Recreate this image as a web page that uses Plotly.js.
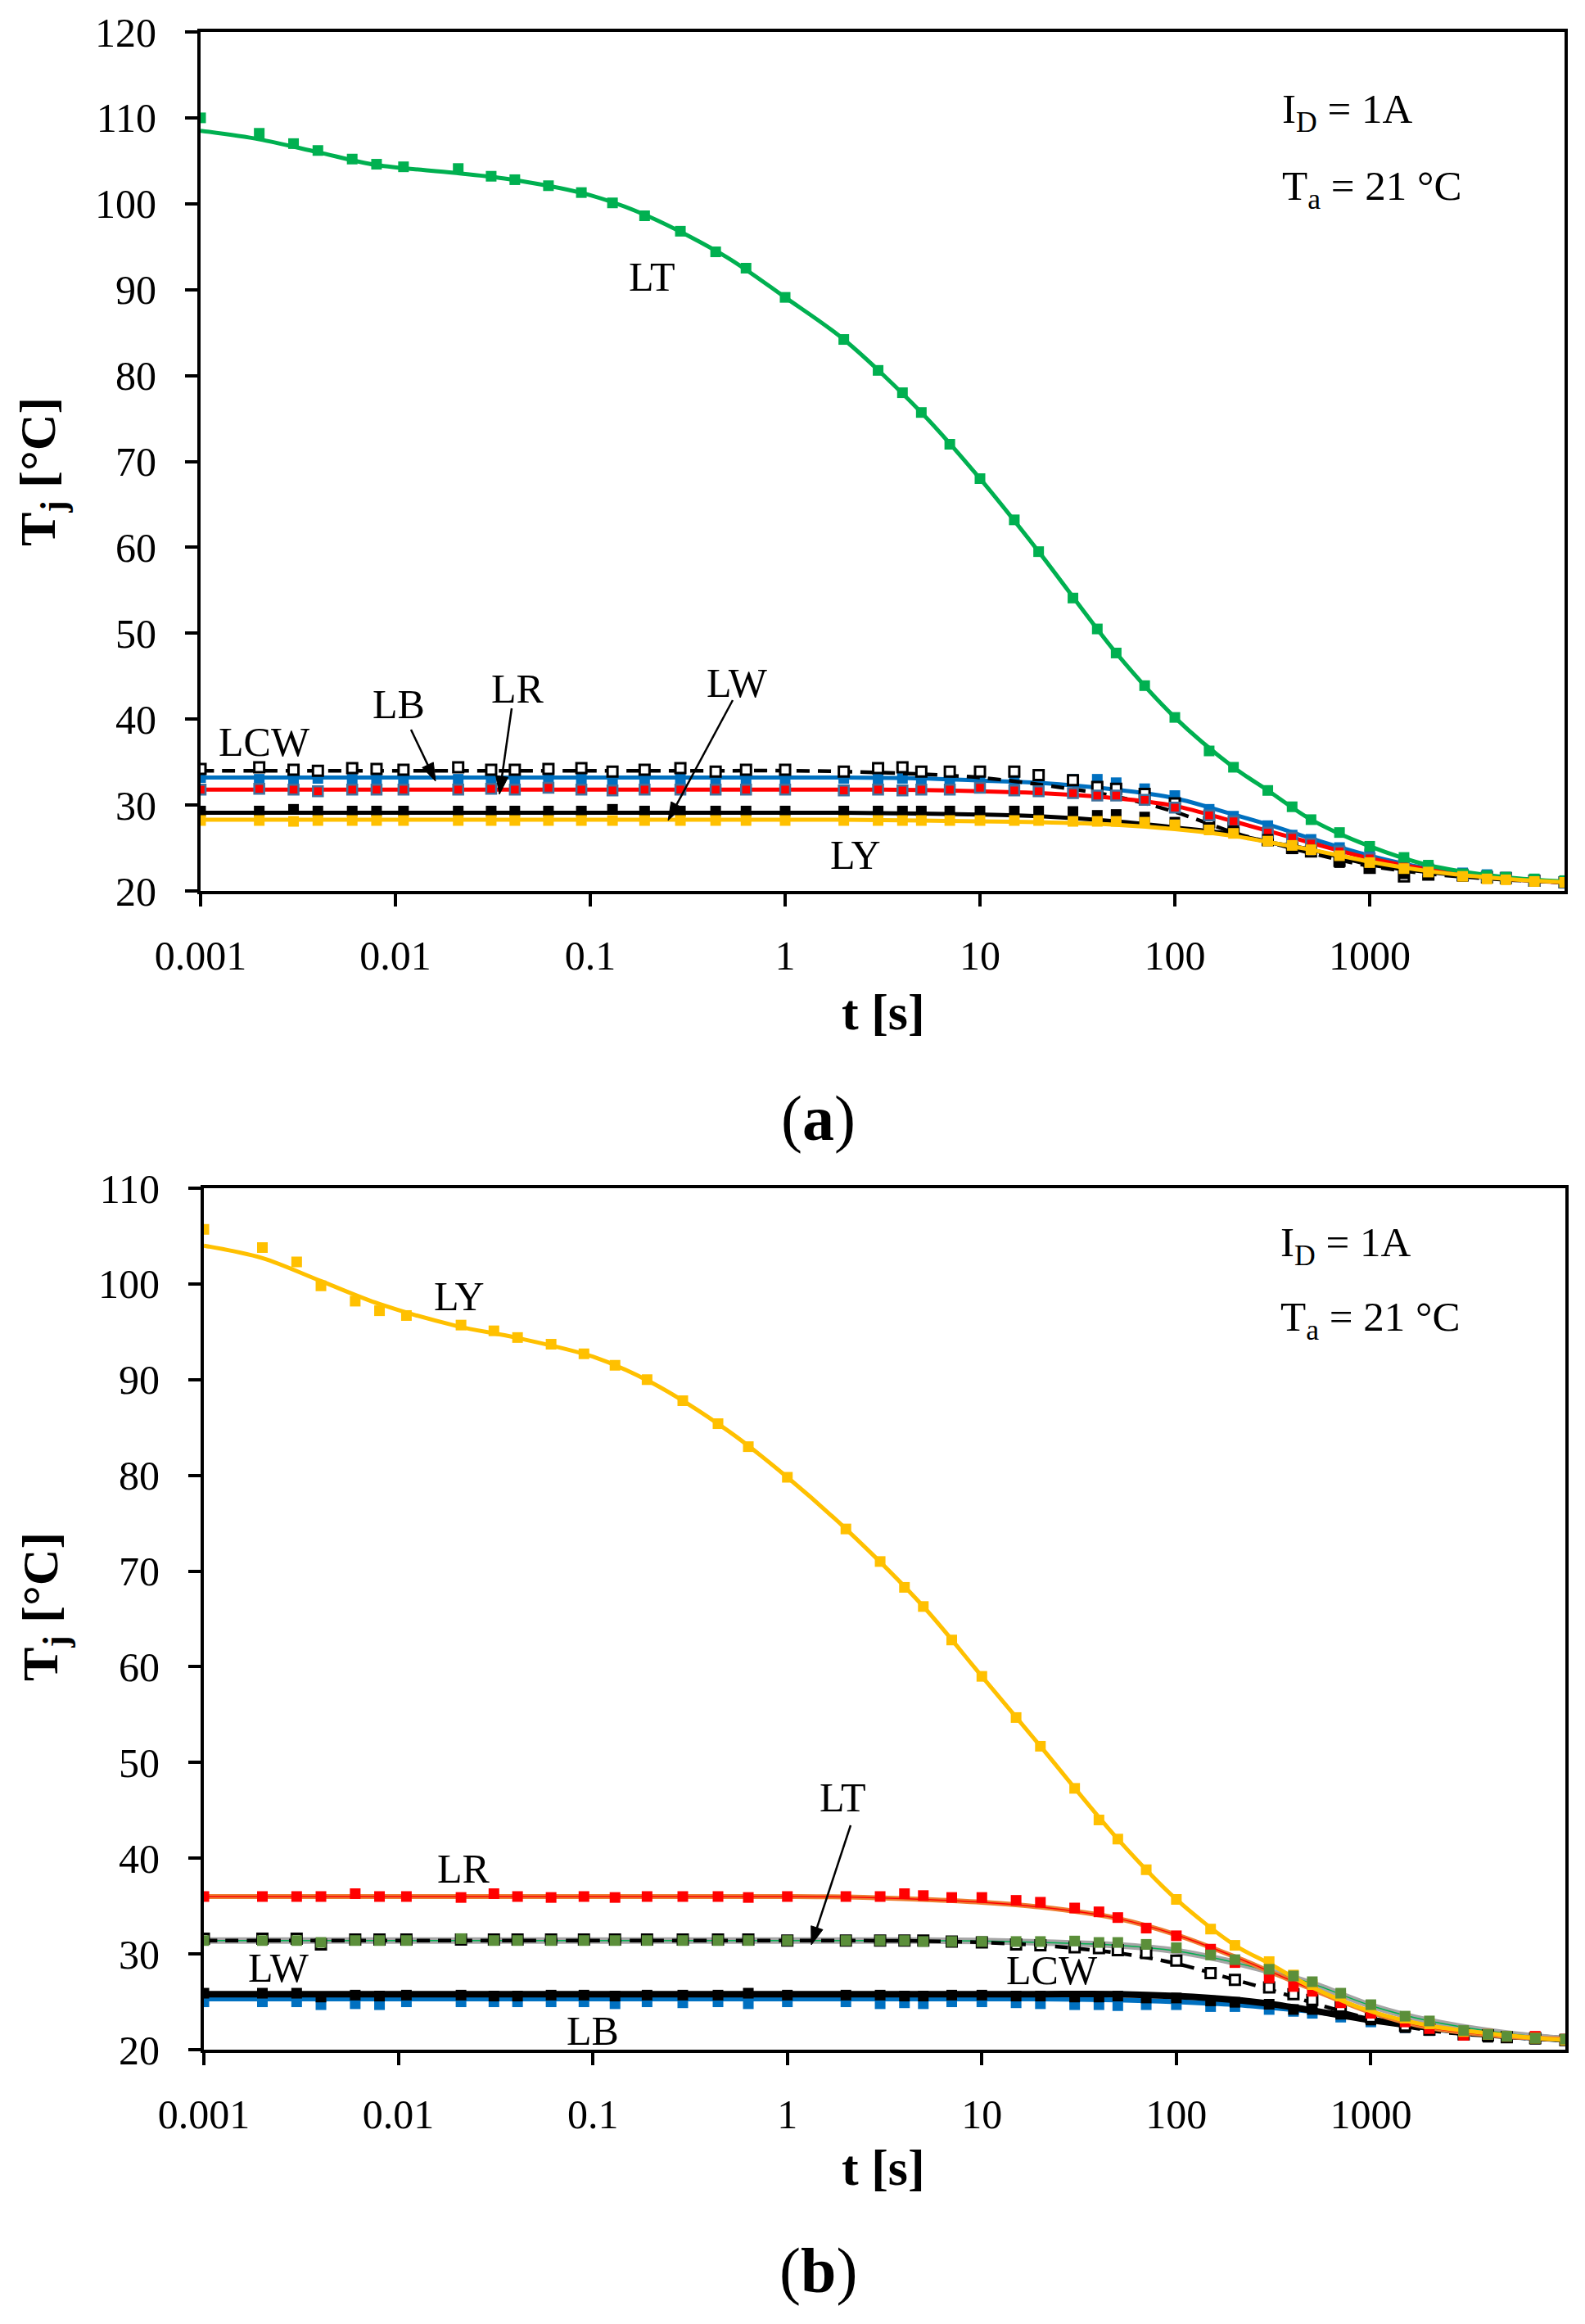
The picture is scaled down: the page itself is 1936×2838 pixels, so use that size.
<!DOCTYPE html>
<html>
<head>
<meta charset="utf-8">
<script src="https://cdn.plot.ly/plotly-3.0.1.min.js"></script>
<style>
html,body{margin:0;padding:0;background:#fff;}
#chart{width:1936px;height:2838px;}
</style>
</head>
<body>
<div id="chart"></div>
<script>
// ---------- data ----------
const T_GRID = [0.001,0.002,0.003,0.004,0.006,0.008,0.011,0.021,0.031,0.041,0.061,0.09,0.13,0.19,0.29,0.44,0.63,1,2,3,4,5,7,10,15,20,30,40,50,70,100,150,200,300,400,500,700,1000,1500,2000,3000,4000,5000,7000,10000];
const FIT_T = [0.001,0.002,0.004,0.008,0.02,0.04,0.1,0.2,0.5,1,2,5,10,20,50,100,200,300,500,1000,2000,5000,10000];
const X_TICKS = [0.001,0.01,0.1,1,10,100,1000];
const X_TICK_TEXT = ['0.001','0.01','0.1','1','10','100','1000'];

// (a) measured points
const A_LT  = [110.0,108.2,107.0,106.2,105.2,104.6,104.3,104.1,103.2,102.8,102.1,101.3,100.1,98.6,96.8,94.4,92.5,89.1,84.2,80.6,78.0,75.7,72.0,68.0,63.2,59.5,54.1,50.5,47.7,43.9,40.2,36.3,34.4,31.7,29.8,28.3,26.8,25.2,23.9,23.0,22.0,21.8,21.6,21.4,21.2];
const A_LCW = [34.2,34.4,34.1,34.0,34.3,34.2,34.1,34.4,34.1,34.1,34.2,34.3,33.9,34.1,34.3,33.9,34.1,34.1,33.9,34.3,34.4,33.9,33.9,33.9,33.9,33.5,32.9,32.1,31.9,31.3,30.2,28.0,27.4,25.9,25.0,24.6,23.5,22.7,21.7,21.9,21.8,21.6,21.5,21.2,21.0];
const A_LB  = [33.2,33.0,33.1,33.1,33.0,33.1,33.1,33.0,33.1,33.1,33.0,33.1,33.0,33.1,33.1,33.0,33.1,33.1,33.1,33.0,33.1,33.0,32.9,32.8,32.8,32.5,33.0,33.0,32.6,31.9,31.1,29.5,28.7,27.6,26.5,26.0,25.05,24.3,23.3,22.7,22.1,21.9,21.6,21.3,21.0];
const A_LR  = [31.8,31.9,31.8,31.6,31.8,31.8,31.8,31.8,31.9,31.8,32.0,31.8,31.7,31.8,31.8,31.8,31.8,31.8,31.7,31.8,31.7,31.8,31.8,32.0,31.7,31.6,31.4,31.1,31.1,30.6,29.7,28.8,28.1,26.8,26.2,25.5,24.6,23.8,23.0,22.5,21.9,21.7,21.5,21.2,21.0];
const A_LW  = [29.3,29.3,29.5,29.3,29.3,29.3,29.3,29.3,29.3,29.3,29.3,29.3,29.5,29.3,29.3,29.3,29.3,29.3,29.3,29.3,29.3,29.3,29.3,29.3,29.3,29.3,29.25,28.8,28.9,28.6,28.0,27.4,27.0,26.0,24.9,24.8,23.3,22.7,22.0,21.9,21.7,21.5,21.4,21.2,21.0];
const A_LY  = [28.2,28.2,28.1,28.2,28.2,28.2,28.2,28.2,28.2,28.2,28.2,28.2,28.2,28.2,28.2,28.2,28.2,28.2,28.2,28.2,28.2,28.2,28.2,28.2,28.2,28.2,28.1,28.1,28.1,28.0,27.7,27.1,26.7,25.8,25.3,24.8,24.1,23.3,22.6,22.2,21.7,21.4,21.3,21.1,21.0];
// (a) fitted curves
const A_LT_FIT  = [108.5,107.5,106.0,104.5,103.6,102.8,101.0,98.5,93.8,89.1,84.2,75.7,68.0,59.5,47.7,40.2,34.4,31.7,28.3,25.2,23.0,21.6,21.1];
const A_LCW_FIT = [34.0,34.0,34.0,34.0,34.0,34.0,34.0,34.0,34.0,34.0,33.9,33.6,33.2,32.4,31.0,29.2,26.8,25.7,24.4,22.9,22.0,21.3,21.0];
const A_LB_FIT  = [33.2,33.2,33.2,33.2,33.2,33.2,33.2,33.2,33.2,33.2,33.2,33.1,32.85,32.6,31.8,30.8,28.9,27.75,26.1,24.1,22.6,21.5,21.0];
const A_LR_FIT  = [31.8,31.8,31.8,31.8,31.8,31.8,31.8,31.8,31.8,31.8,31.8,31.75,31.6,31.4,30.8,29.9,28.1,27.0,25.6,23.8,22.5,21.4,21.0];
const A_LW_FIT  = [29.1,29.1,29.1,29.1,29.1,29.1,29.1,29.1,29.1,29.1,29.1,29.0,28.9,28.7,28.1,27.4,26.6,25.7,24.8,23.1,22.2,21.4,21.0];
const A_LY_FIT  = [28.3,28.3,28.3,28.3,28.3,28.3,28.3,28.3,28.3,28.3,28.3,28.2,28.1,28.0,27.7,27.2,26.4,25.7,24.8,23.4,22.3,21.4,21.0];

// (b) measured points
const B_LY  = [105.7,103.8,102.3,99.8,98.2,97.2,96.7,95.7,95.1,94.4,93.7,92.7,91.5,90.0,87.8,85.4,83.0,79.8,74.4,71.0,68.3,66.3,62.8,59.0,54.7,51.7,47.3,44.0,42.0,38.8,35.7,32.6,30.9,29.2,27.8,26.8,25.6,24.5,23.3,22.7,21.9,21.6,21.4,21.2,21.0];
const B_LR  = [36.0,36.0,36.0,36.0,36.3,36.0,36.0,35.9,36.3,36.0,35.9,36.0,35.9,36.0,36.0,36.0,35.9,36.0,36.0,36.0,36.3,36.1,35.9,35.9,35.6,35.4,34.8,34.4,33.8,32.7,31.9,30.5,29.1,27.5,26.6,26.1,24.9,23.8,22.9,22.2,21.5,21.6,21.4,21.4,21.1];
const B_LT  = [31.4,31.4,31.4,31.2,31.4,31.4,31.4,31.6,31.4,31.4,31.4,31.4,31.4,31.4,31.4,31.4,31.4,31.4,31.4,31.4,31.4,31.3,31.3,31.3,31.3,31.3,31.35,31.2,31.2,31.0,30.65,29.9,29.4,28.4,27.7,27.1,25.9,24.7,23.5,23.0,22.0,21.6,21.4,21.2,21.1];
const B_LCW = [31.6,31.6,31.6,31.0,31.5,31.5,31.5,31.5,31.5,31.5,31.5,31.5,31.5,31.5,31.5,31.5,31.5,31.4,31.4,31.4,31.4,31.4,31.3,31.2,31.0,30.9,30.7,30.6,30.4,30.1,29.3,28.0,27.3,26.5,25.8,25.2,24.5,23.4,22.5,22.1,21.6,21.5,21.3,21.2,21.0];
const B_LW  = [25.9,25.9,25.9,25.5,25.7,25.6,25.7,25.7,25.6,25.6,25.7,25.7,25.6,25.7,25.7,25.7,25.9,25.7,25.7,25.7,25.6,25.6,25.7,25.7,25.6,25.6,25.5,25.5,25.6,25.4,25.4,25.1,24.95,24.75,24.2,24.2,23.7,23.1,22.3,22.0,21.5,21.3,21.3,21.1,21.0];
const B_LB  = [25.0,25.0,25.0,24.7,24.8,24.7,25.0,25.0,25.0,25.0,25.0,25.0,24.8,25.0,24.9,25.0,24.8,25.0,25.0,24.8,24.9,24.8,25.0,25.0,24.9,24.8,24.7,24.7,24.6,24.7,24.7,24.5,24.5,24.2,24.0,23.8,23.4,22.9,22.3,22.0,21.5,21.4,21.3,21.2,21.0];
// (b) fitted curves
const B_LY_FIT  = [104.0,102.7,100.3,97.9,95.6,94.4,92.4,89.7,84.6,79.8,74.4,66.3,59.0,51.7,42.0,35.7,30.9,29.0,26.5,24.0,22.5,21.5,21.0];
const B_LR_FIT  = [36.0,36.0,36.0,36.0,36.0,36.0,36.0,36.0,36.0,36.0,35.95,35.7,35.4,34.9,33.7,32.0,29.7,28.2,26.3,23.9,22.3,21.4,21.1];
const B_LT_FIT  = [31.4,31.4,31.4,31.4,31.4,31.4,31.4,31.4,31.4,31.4,31.4,31.4,31.35,31.2,30.9,30.3,29.1,28.2,26.9,24.6,23.0,21.7,21.1];
const B_LCW_FIT = [31.4,31.4,31.4,31.4,31.4,31.4,31.4,31.4,31.4,31.4,31.4,31.35,31.2,30.9,30.1,29.0,27.3,26.3,24.9,23.2,22.0,21.3,21.0];
const B_LW_FIT  = [25.8,25.8,25.8,25.8,25.8,25.8,25.8,25.8,25.8,25.8,25.8,25.8,25.8,25.8,25.8,25.6,25.2,24.8,24.1,23.1,22.3,21.5,21.1];
const B_LB_FIT  = [25.3,25.3,25.3,25.3,25.3,25.3,25.3,25.3,25.3,25.3,25.3,25.3,25.3,25.3,25.2,25.0,24.7,24.4,24.0,23.1,22.2,21.4,21.0];

// ---------- helpers ----------
const W = 1936, H = 2838;
const PX = x => x / W;
const PY = y => 1 - y / H;
const FONT = '"Liberation Serif", "Times New Roman", serif';

function fitLine(xa, ya, yv, color, width, dash) {
  return {x: FIT_T, y: yv, xaxis: xa, yaxis: ya, mode: 'lines', hoverinfo: 'skip',
          line: {color: color, width: width, dash: dash || 'solid', shape: 'spline', smoothing: 0.9}};
}
function points(xa, ya, yv, fill, lineColor, lineWidth, size) {
  return {x: T_GRID, y: yv, xaxis: xa, yaxis: ya, mode: 'markers', hoverinfo: 'skip',
          marker: {symbol: 'square', size: size || 13, color: fill,
                   line: {color: lineColor || fill, width: lineWidth || 0}}};
}

const C = {green:'#00B050', blue:'#0070C0', red:'#FF0000', yellow:'#FFC000', black:'#000000',
           olive:'#5B8F3A', gray:'#A5A5A5', orange:'#ED7D31', steel:'#41719C'};

const traces = [
  // ---- (a) ----
  fitLine('x','y', A_LB_FIT, C.blue, 5),
  points('x','y', A_LB, C.blue),
  fitLine('x','y', A_LCW_FIT, C.black, 4.5, '16px,10px'),
  points('x','y', A_LCW, '#FFFFFF', C.black, 3, 12),
  fitLine('x','y', A_LR_FIT, C.red, 5),
  points('x','y', A_LR, C.red, C.steel, 2.5, 12),
  fitLine('x','y', A_LW_FIT, C.black, 5),
  points('x','y', A_LW, C.black),
  fitLine('x','y', A_LT_FIT, C.green, 5),
  points('x','y', A_LT, C.green),
  fitLine('x','y', A_LY_FIT, C.yellow, 5),
  points('x','y', A_LY, C.yellow),
  // ---- (b) ----
  fitLine('x2','y2', B_LB_FIT, C.blue, 6),
  points('x2','y2', B_LB, C.blue),
  fitLine('x2','y2', B_LW_FIT, C.black, 8),
  points('x2','y2', B_LW, C.black),
  fitLine('x2','y2', B_LT_FIT, C.gray, 8),
  fitLine('x2','y2', B_LT_FIT, C.green, 1.5),
  fitLine('x2','y2', B_LCW_FIT, C.black, 4.5, '16px,10px'),
  points('x2','y2', B_LCW, '#FFFFFF', C.black, 3, 12),
  fitLine('x2','y2', B_LR_FIT, C.orange, 6),
  fitLine('x2','y2', B_LR_FIT, C.red, 1.5),
  points('x2','y2', B_LR, C.red),
  fitLine('x2','y2', B_LY_FIT, C.yellow, 5),
  points('x2','y2', B_LY, C.yellow),
  points('x2','y2', B_LT, C.olive)
];

function xAxis(domain, anchor) {
  return {domain: domain, anchor: anchor, type: 'log', range: [-3, 4],
          tickmode: 'array', tickvals: X_TICKS, ticktext: X_TICK_TEXT,
          ticks: 'outside', ticklen: 15, tickwidth: 4, tickcolor: '#000',
          showline: true, linewidth: 4, linecolor: '#000', mirror: true,
          showgrid: false, zeroline: false, ticklabelstandoff: 17,
          tickfont: {family: FONT, size: 50, color: '#000'}};
}
function yAxis(domain, anchor, top) {
  return {domain: domain, anchor: anchor, range: [20, top], tick0: 20, dtick: 10,
          ticks: 'outside', ticklen: 15, tickwidth: 4, tickcolor: '#000',
          showline: true, linewidth: 4, linecolor: '#000', mirror: true,
          showgrid: false, zeroline: false, ticklabelstandoff: 25,
          tickfont: {family: FONT, size: 50, color: '#000'}};
}

function label(text, x, y, size, extra) {
  return Object.assign({text: text, x: PX(x), y: PY(y), xref: 'paper', yref: 'paper',
          showarrow: false, xanchor: 'center', yanchor: 'middle',
          font: {family: FONT, size: size || 50, color: '#000'}}, extra || {});
}
// arrow drawn as shapes: a shaft line and a filled triangular head (pixel geometry -> paper)
function arrowShapes(tx, ty, hx, hy) {
  const dx = hx - tx, dy = hy - ty, L = Math.hypot(dx, dy);
  const ux = dx / L, uy = dy / L, len = 22, half = 7.5;
  const bx = hx - ux * len, by = hy - uy * len;
  const p1 = [bx - uy * half, by + ux * half], p2 = [bx + uy * half, by - ux * half];
  return [
    {type: 'line', xref: 'paper', yref: 'paper', x0: PX(tx), y0: PY(ty), x1: PX(bx), y1: PY(by),
     line: {color: '#000', width: 2.5}},
    {type: 'path', xref: 'paper', yref: 'paper',
     path: 'M ' + PX(hx) + ' ' + PY(hy) + ' L ' + PX(p1[0]) + ' ' + PY(p1[1]) + ' L ' + PX(p2[0]) + ' ' + PY(p2[1]) + ' Z',
     fillcolor: '#000', line: {color: '#000', width: 1}}
  ];
}

const shapes = [].concat(
  arrowShapes(502, 891, 532, 954),
  arrowShapes(625, 865, 610, 970),
  arrowShapes(895, 855, 816, 1002),
  arrowShapes(1039, 2229, 991, 2375)
);

const annotations = [
  // (a)
  label('LT', 796, 338),
  label('LCW', 323, 906),
  label('LB', 487, 860),
  label('LR', 632, 841),
  label('LW', 900, 834),
  label('LY', 1045, 1044),
  label('I<sub>D</sub> = 1A', 1564, 137, 51, {xanchor: 'left'}),
  label('T<sub>a</sub> = 21 °C', 1564, 231, 51, {xanchor: 'left'}),
  label('<b>t [s]</b>', 1079, 1236, 62),
  label('<b>T<sub>j</sub> [°C]</b>', 51, 576, 62, {textangle: -90}),
  label('(<b>a</b>)', 1000, 1365, 78),
  // (b)
  label('LY', 561, 1583),
  label('LR', 566, 2282),
  label('LT', 1029, 2195),
  label('LW', 340, 2403),
  label('LB', 724, 2480),
  label('LCW', 1285, 2406),
  label('I<sub>D</sub> = 1A', 1562, 1521, 51, {xanchor: 'left'}),
  label('T<sub>a</sub> = 21 °C', 1562, 1612, 51, {xanchor: 'left'}),
  label('<b>t [s]</b>', 1079, 2647, 62),
  label('<b>T<sub>j</sub> [°C]</b>', 54, 1962, 62, {textangle: -90}),
  label('(<b>b</b>)', 1000, 2772, 78)
];

const layout = {
  width: W, height: H,
  margin: {l: 0, r: 0, t: 0, b: 0},
  paper_bgcolor: '#fff', plot_bgcolor: '#fff',
  showlegend: false,
  font: {family: FONT, color: '#000'},
  xaxis:  xAxis([PX(245), PX(1911)], 'y'),
  yaxis:  yAxis([PY(1088), PY(39)], 'x', 120),
  xaxis2: xAxis([PX(249), PX(1912)], 'y2'),
  yaxis2: yAxis([PY(2503), PY(1451)], 'x2', 110),
  annotations: annotations,
  shapes: shapes
};

Plotly.newPlot('chart', traces, layout, {staticPlot: true, displayModeBar: false});
</script>
</body>
</html>
